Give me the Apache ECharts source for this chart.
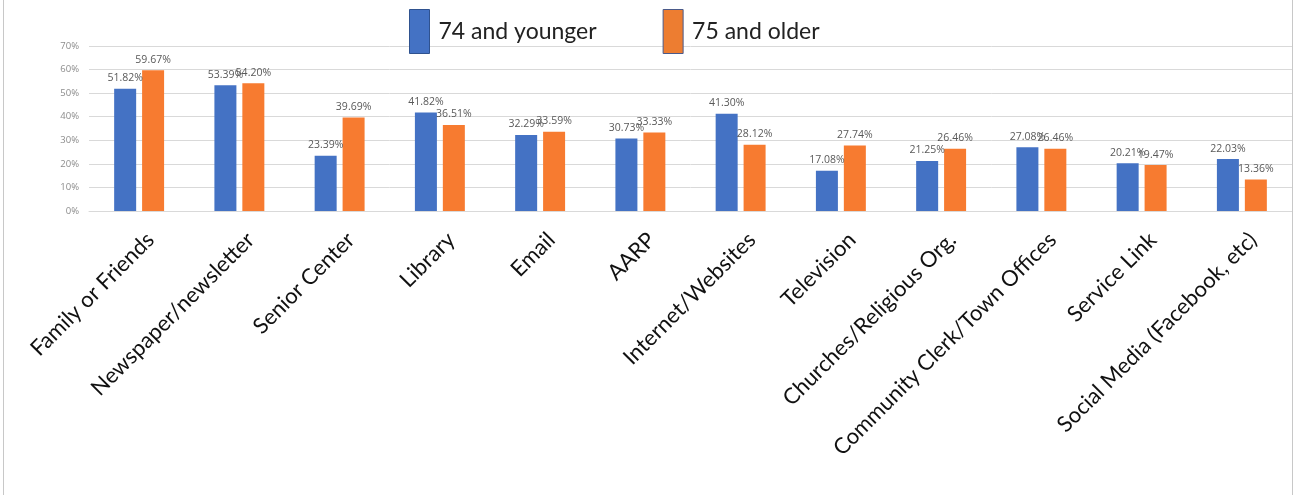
<!DOCTYPE html>
<html>
<head>
<meta charset="utf-8">
<script src="https://cdn.jsdelivr.net/npm/echarts@6/dist/echarts.min.js"></script>
<style>
html,body{margin:0;padding:0;background:#fff;}
#chart{position:absolute;left:3px;top:0;width:1290px;height:495px;box-sizing:border-box;border-left:1px solid #c8c8c8;border-right:1px solid #c8c8c8;}
</style>
</head>
<body>
<div id="chart"></div>
<script>
const categories = ["Family or Friends","Newspaper/newsletter","Senior Center","Library","Email","AARP","Internet/Websites","Television","Churches/Religious Org.","Community Clerk/Town Offices","Service Link","Social Media (Facebook, etc)"];
const younger = [51.82,53.39,23.39,41.82,32.29,30.73,41.30,17.08,21.25,27.08,20.21,22.03];
const older = [59.67,54.20,39.69,36.51,33.59,33.33,28.12,27.74,26.46,26.46,19.47,13.36];
const seriesNames = ["74 and younger","75 and older"];
const yTicks = [0,10,20,30,40,50,60,70];

const chart = echarts.init(document.getElementById('chart'));
const labelStyle = {show:true, position:'top', distance:5, fontSize:10.5, color:'#595959', fontFamily:'Open Sans',
  formatter: p => p.value.toFixed(2) + '%'};
chart.setOption({
  animation:false,
  legend:{
    left:405, top:9, padding:0, itemWidth:20, itemHeight:44, itemGap:66, icon:'rect',
    textStyle:{fontSize:23, color:'#222', fontFamily:'Lato', padding:[0,0,0,4]},
    data:[
      {name:seriesNames[0], itemStyle:{color:'#4472C4', borderColor:'#2F528F', borderWidth:1}},
      {name:seriesNames[1], itemStyle:{color:'#ED7D31', borderColor:'#4a5a8a', borderWidth:1}}
    ]
  },
  grid:{left:85, right:0, top:46, bottom:284, containLabel:false},
  xAxis:{
    type:'category', data:categories,
    axisLine:{lineStyle:{color:'#d9d9d9', width:1}},
    axisTick:{show:false},
    axisLabel:{rotate:45, interval:0, fontSize:22, color:'#111', fontFamily:'Lato', margin:14,
      verticalAlign:'top', lineHeight:32}
  },
  yAxis:{
    type:'value', min:yTicks[0], max:yTicks[yTicks.length-1], interval:10,
    axisLine:{show:false}, axisTick:{show:false},
    splitLine:{lineStyle:{color:'#d9d9d9', width:1}},
    axisLabel:{formatter:'{value}%', fontSize:9.5, color:'#8c8c8c', fontFamily:'Open Sans', margin:10}
  },
  series:[
    {name:seriesNames[0], type:'bar', data:younger, barWidth:22, barGap:'27%', itemStyle:{color:'#4472C4'}, label:labelStyle},
    {name:seriesNames[1], type:'bar', data:older, barWidth:22, itemStyle:{color:'#F77B30'}, label:labelStyle}
  ]
});
</script>
</body>
</html>
